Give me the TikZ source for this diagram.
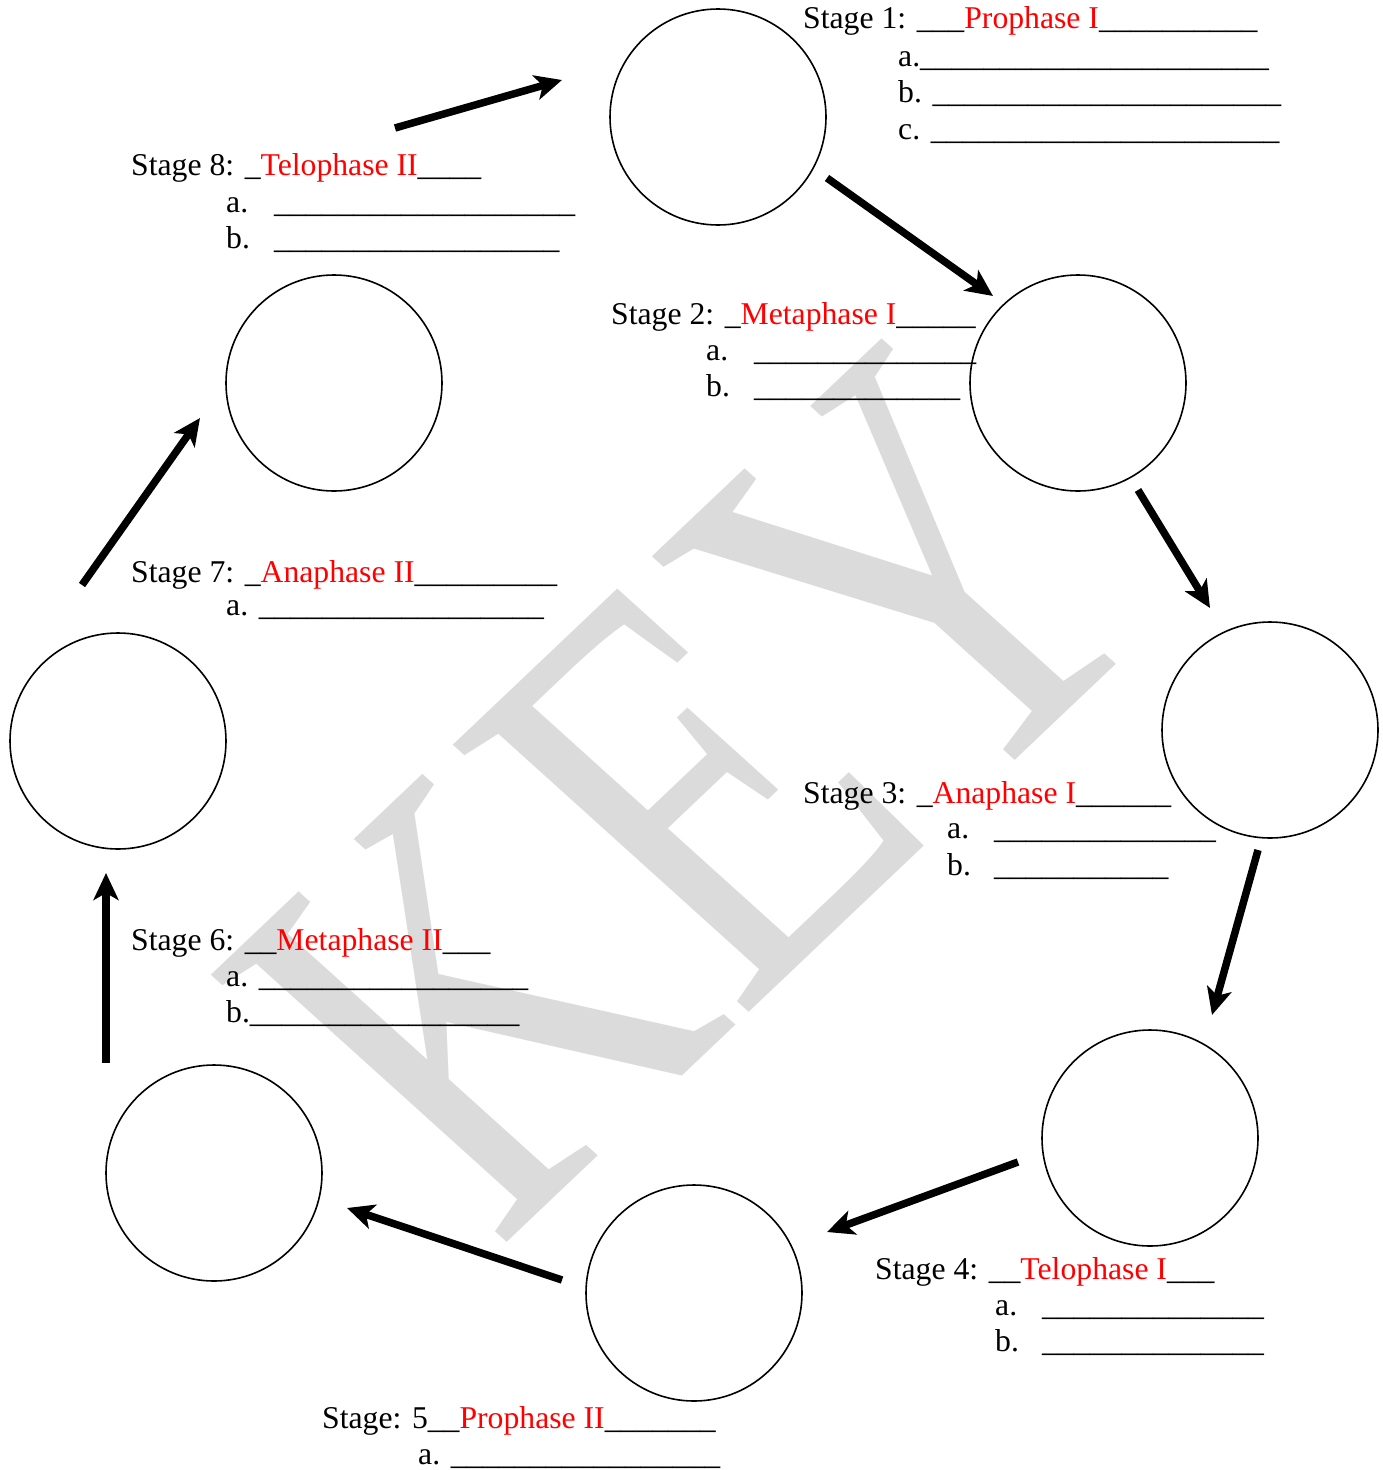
\documentclass[tikz,border=0pt]{standalone}
\usepackage{fontspec}
\setmainfont{Liberation Serif}
\usetikzlibrary{arrows.meta}
\newcommand\unds[1]{\foreach\ii in {1,...,#1}{\_}}
\newcommand\rd[1]{\textcolor{red}{#1}}
\begin{document}
\begin{tikzpicture}[x=1pt,y=-1pt,
  cell/.style={circle,draw,line width=1.6pt,minimum size=216pt,inner sep=0pt},
  arr/.style={line width=7.5pt,-{Stealth[length=27pt,width=25pt,inset=7pt]}},
  lbl/.style={anchor=base west,inner sep=0pt,font=\fontsize{31.7}{38}\selectfont},
  wm/.style={anchor=base west,inner sep=0pt,transform shape,text=gray!28,font=\fontsize{100}{100}\selectfont}]
\fill[white] (0,0) rectangle (1383,1470);
\useasboundingbox (0,0) rectangle (1383,1470);
% watermark
\begin{scope}[shift={(497,1252)},cm={3.35,3.18,-4.52,4.08,(0,0)}]
\node[wm] (key) at (0,0) {KEY};
\end{scope}
% circles
\node[cell] (c1) at (718,117) {};
\node[cell] (c2) at (1078,383) {};
\node[cell] (c3) at (1270,730) {};
\node[cell] (c4) at (1150,1138) {};
\node[cell] (c5) at (694,1293) {};
\node[cell] (c6) at (214,1173) {};
\node[cell] (c7) at (118,741) {};
\node[cell] (c8) at (334,383) {};
% arrow ends
\coordinate (a81) at (395,128);   \coordinate (b81) at (562,80);
\coordinate (a12) at (827,178);   \coordinate (b12) at (993,296);
\coordinate (a23) at (1138,490);  \coordinate (b23) at (1210,608);
\coordinate (a34) at (1258,850);  \coordinate (b34) at (1212,1015);
\coordinate (a45) at (1018,1162); \coordinate (b45) at (827,1232);
\coordinate (a56) at (562,1280);  \coordinate (b56) at (347,1208);
\coordinate (a67) at (106,1063);  \coordinate (b67) at (106,873);
\coordinate (a78) at (82,585);    \coordinate (b78) at (200,418);
\draw[arr] (a81) -- (b81);
\draw[arr] (a12) -- (b12);
\draw[arr] (a23) -- (b23);
\draw[arr] (a34) -- (b34);
\draw[arr] (a45) -- (b45);
\draw[arr] (a56) -- (b56);
\draw[arr] (a67) -- (b67);
\draw[arr] (a78) -- (b78);
% Stage 1
\node[lbl] (s1) at (803,28) {Stage 1: \_\_\_\rd{Prophase I}\unds{10}};
\node[lbl] (s1a) at (898,66) {a.\unds{22}};
\node[lbl] (s1b) at (898,102) {b. \unds{22}};
\node[lbl] (s1c) at (898,139) {c. \unds{22}};
% Stage 2
\node[lbl] (s2) at (611,324) {Stage 2: \_\rd{Metaphase I}\unds{5}};
\node[lbl] (s2a) at (706,360) {\makebox[48pt][l]{a.}\unds{14}};
\node[lbl] (s2b) at (706,396) {\makebox[48pt][l]{b.}\unds{13}};
% Stage 3
\node[lbl] (s3) at (803,803) {Stage 3: \_\rd{Anaphase I}\unds{6}};
\node[lbl] (s3a) at (947,838) {\makebox[47pt][l]{a.}\unds{14}};
\node[lbl] (s3b) at (947,875) {\makebox[47pt][l]{b.}\unds{11}};
% Stage 4
\node[lbl] (s4) at (875,1279) {Stage 4: \_\_\rd{Telophase I}\unds{3}};
\node[lbl] (s4a) at (995,1315) {\makebox[47pt][l]{a.}\unds{14}};
\node[lbl] (s4b) at (995,1351) {\makebox[47pt][l]{b.}\unds{14}};
% Stage 5
\node[lbl] (s5) at (322,1428) {Stage: 5\_\_\rd{Prophase II}\unds{7}};
\node[lbl] (s5a) at (418,1464) {a. \unds{17}};
% Stage 6
\node[lbl] (s6) at (131,950) {Stage 6: \_\_\rd{Metaphase II}\unds{3}};
\node[lbl] (s6a) at (226,986) {a. \unds{17}};
\node[lbl] (s6b) at (226,1022) {b.\unds{17}};
% Stage 7
\node[lbl] (s7) at (131,582) {Stage 7: \_\rd{Anaphase II}\unds{9}};
\node[lbl] (s7a) at (226,615) {a. \unds{18}};
% Stage 8
\node[lbl] (s8) at (131,175) {Stage 8: \_\rd{Telophase II}\unds{4}};
\node[lbl] (s8a) at (226,212) {\makebox[48pt][l]{a.}\unds{19}};
\node[lbl] (s8b) at (226,248) {\makebox[48pt][l]{b.}\unds{18}};
\end{tikzpicture}
\end{document}
